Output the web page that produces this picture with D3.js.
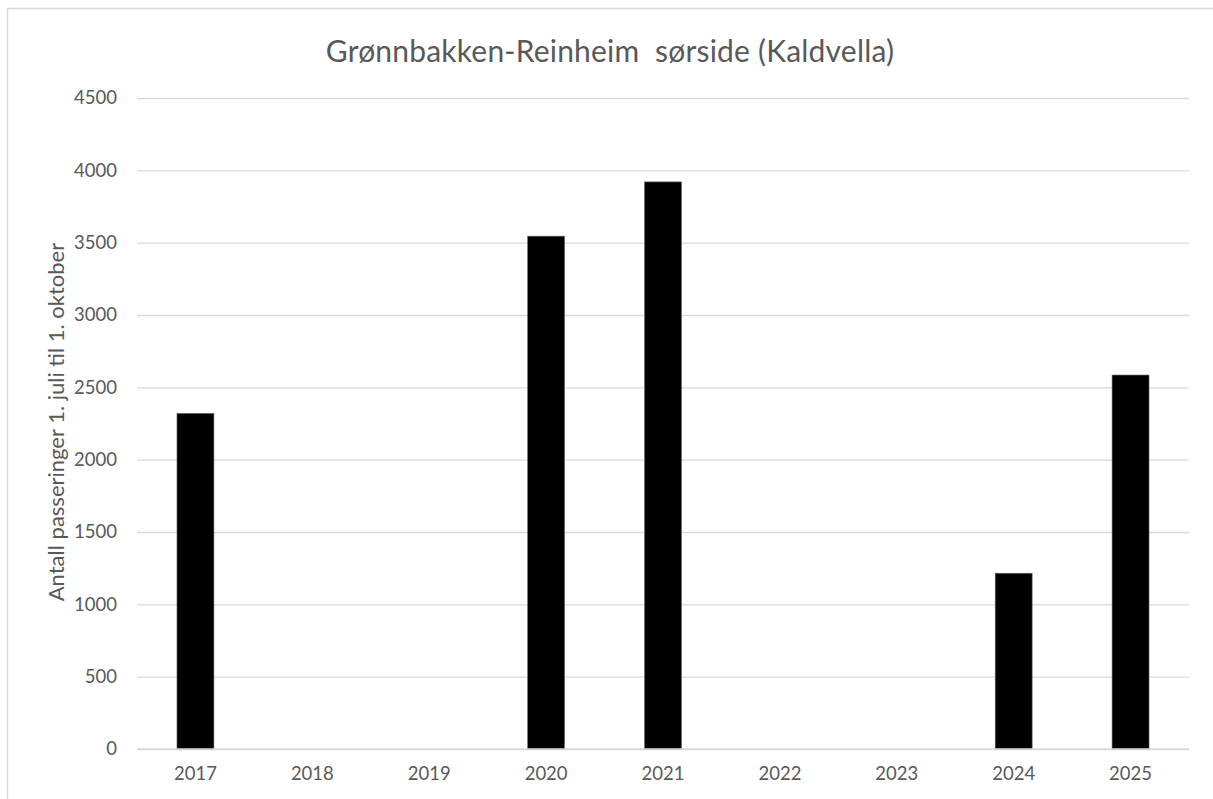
<html>
<head>
<script src="https://cdnjs.cloudflare.com/ajax/libs/d3/7.8.5/d3.min.js"></script>
<style>
  body { margin: 0; background: #fff; }
  text { font-family: Lato, "Open Sans", sans-serif; fill: #595959; }
</style>
</head>
<body>
<script>
var years = ['2017', '2018', '2019', '2020', '2021', '2022', '2023', '2024', '2025'];
var passeringer = [2320, null, null, 3545, 3920, null, null, 1215, 2585];
var yTicks = [0, 500, 1000, 1500, 2000, 2500, 3000, 3500, 4000, 4500];
var title = 'Grønnbakken-Reinheim  sørside (Kaldvella)';
var yTitle = 'Antall passeringer 1. juli til 1. oktober';

var svg = d3.select('body').append('svg')
            .attr('width', 1213).attr('height', 799);

// chart frame
svg.append('rect')
   .attr('x', 7.5).attr('y', 8.5)
   .attr('width', 1230).attr('height', 820)
   .style('fill', 'none').style('stroke', '#d9d9d9').style('stroke-width', 1.5);

var plotL = 137, plotR = 1189, plotT = 98, plotB = 749;

var x = d3.scaleBand().domain(years).range([plotL, plotR]).paddingInner(0.684).paddingOuter(0.342);
var y = d3.scaleLinear().domain([0, 4500]).range([plotB, plotT]);

var grid = svg.append('g')
              .attr('transform', 'translate(' + plotL + ',0)')
              .call(d3.axisLeft(y).tickValues(yTicks).tickSize(-(plotR - plotL)).tickFormat(''));
grid.select('.domain').remove();
grid.selectAll('line').style('stroke', '#d9d9d9').style('stroke-width', 1.3);

var yAxis = svg.append('g')
               .attr('transform', 'translate(117,0)')
               .call(d3.axisLeft(y).tickValues(yTicks).tickSize(0).tickPadding(0).tickFormat(d3.format('d')));
yAxis.select('.domain').remove();
yAxis.selectAll('text').style('font-size', '18.5px').style('fill', '#595959')
     .style('font-family', 'Lato, sans-serif');

svg.append('g').selectAll('rect')
   .data(years.map(function (d, i) { return {year: d, v: passeringer[i]}; })
              .filter(function (d) { return d.v !== null; }))
   .enter().append('rect')
   .attr('x', function (d) { return x(d.year); })
   .attr('y', function (d) { return y(d.v); })
   .attr('width', x.bandwidth())
   .attr('height', function (d) { return plotB - y(d.v); })
   .style('fill', '#000').style('stroke', '#666').style('stroke-width', 0.6);

var xAxis = svg.append('g')
               .attr('transform', 'translate(0,' + plotB + ')')
               .call(d3.axisBottom(x).tickSize(0).tickPadding(18));
xAxis.select('.domain').remove();
xAxis.selectAll('text').style('font-size', '18.5px').style('fill', '#595959')
     .style('font-family', 'Lato, sans-serif');

svg.append('line')
   .attr('x1', plotL).attr('x2', plotR)
   .attr('y1', plotB).attr('y2', plotB)
   .style('stroke', '#d9d9d9').style('stroke-width', 1.3);

svg.append('text')
   .attr('x', 610).attr('y', 62)
   .attr('text-anchor', 'middle')
   .style('font-size', '30px')
   .style('white-space', 'pre')
   .style('letter-spacing', '0.2px')
   .text(title);

svg.append('text')
   .attr('transform', 'translate(64,422) rotate(-90)')
   .attr('text-anchor', 'middle')
   .style('font-size', '22px')
   .text(yTitle);
</script>
</body>
</html>
